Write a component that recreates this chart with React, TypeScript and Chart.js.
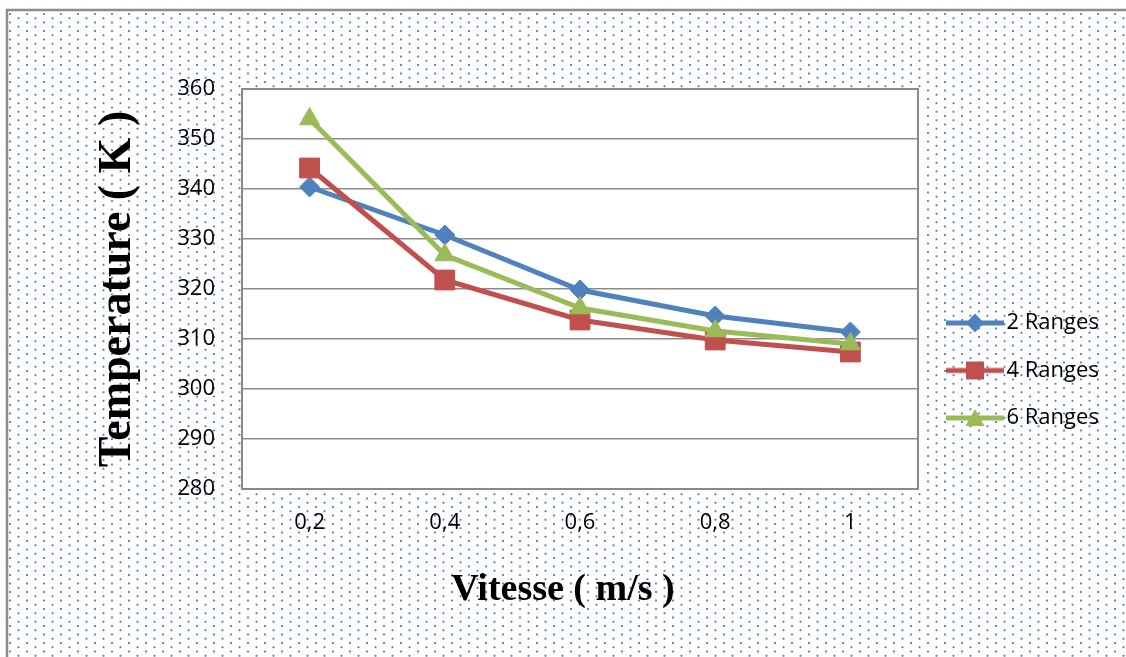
import React, { useEffect, useRef } from 'react';
import { Chart, registerables } from 'chart.js';

Chart.register(...registerables);

// ---- data ----
const categories = ['0,2', '0,4', '0,6', '0,8', '1'];
const seriesNames = ['2 Ranges', '4 Ranges', '6 Ranges'];
const ranges2 = [340.4, 330.8, 319.8, 314.6, 311.4];
const ranges4 = [344.2, 321.8, 313.8, 309.8, 307.4];
const ranges6 = [354.0, 326.8, 316.2, 311.6, 309.0];
const yMin = 280;
const yMax = 360;
const yStep = 10;
const xTitle = 'Vitesse ( m/s )';
const yTitle = 'Temperature ( K )';

// ---- styles ----
const seriesColors = ['#4F81BD', '#C0504D', '#9BBB59'];
const seriesShapes = ['rectRot', 'rect', 'triangle'];
const seriesRadii = [10, 14, 11.5];
const W = 1126;
const H = 657;
const LEGEND_WIDTH = 208;
const SANS = '"Open Sans", "Liberation Sans", sans-serif';
const SERIF = '"Liberation Serif", "DejaVu Serif", serif';

function makeLegendIcon(color: string, shape: string): HTMLCanvasElement {
  const c = document.createElement('canvas');
  c.width = 69;
  c.height = 26;
  const g = c.getContext('2d') as CanvasRenderingContext2D;
  g.strokeStyle = color;
  g.lineWidth = 5;
  g.beginPath();
  g.moveTo(11, 13);
  g.lineTo(69, 13);
  g.stroke();
  g.fillStyle = color;
  const cx = 40;
  const cy = 13;
  g.beginPath();
  if (shape === 'rectRot') {
    g.moveTo(cx, cy - 9.5);
    g.lineTo(cx + 9, cy);
    g.lineTo(cx, cy + 9.5);
    g.lineTo(cx - 9, cy);
    g.closePath();
  } else if (shape === 'rect') {
    g.rect(cx - 9, cy - 9, 18, 18);
  } else {
    g.moveTo(cx, cy - 9);
    g.lineTo(cx + 9.5, cy + 8);
    g.lineTo(cx - 9.5, cy + 8);
    g.closePath();
  }
  g.fill();
  return c;
}

const backgroundPlugin = {
  id: 'bgPattern',
  beforeDraw(chart: any) {
    const { ctx, width, height, chartArea } = chart;
    ctx.save();
    ctx.fillStyle = '#ffffff';
    ctx.fillRect(0, 0, width, height);
    // dotted fill
    ctx.fillStyle = '#3f75bd';
    const d = 8.5;
    for (let i = 0; ; i++) {
      const x = 10 + i * d;
      if (x > width) break;
      const off = i % 2 === 0 ? 0 : d / 2;
      for (let y = 14 + off; y < height; y += d) {
        if (
          x > chartArea.left - 2 &&
          x < chartArea.right + 2 &&
          y > chartArea.top - 2 &&
          y < chartArea.bottom + 2
        )
          continue;
        ctx.fillRect(x - 0.9, y - 0.9, 1.8, 1.8);
      }
    }
    // outer frame
    ctx.strokeStyle = '#8c8c8c';
    ctx.lineWidth = 2.5;
    ctx.beginPath();
    ctx.moveTo(7, height + 5);
    ctx.lineTo(7, 10);
    ctx.lineTo(width + 5, 10);
    ctx.stroke();
    // plot area
    ctx.fillStyle = '#ffffff';
    ctx.fillRect(
      chartArea.left,
      chartArea.top,
      chartArea.right - chartArea.left,
      chartArea.bottom - chartArea.top
    );
    ctx.restore();
  },
  beforeDatasetsDraw(chart: any) {
    const { ctx, chartArea } = chart;
    ctx.save();
    ctx.strokeStyle = '#898989';
    ctx.lineWidth = 2;
    ctx.strokeRect(
      chartArea.left,
      chartArea.top,
      chartArea.right - chartArea.left,
      chartArea.bottom - chartArea.top
    );
    ctx.restore();
  },
};

const legendWidthPlugin = {
  id: 'legendWidth',
  beforeLayout(chart: any) {
    const lg = chart.legend;
    if (lg && !lg._fixedW) {
      const orig = lg.fit;
      lg.fit = function (this: any) {
        orig.call(this);
        this.width = LEGEND_WIDTH;
      };
      lg._fixedW = true;
    }
  },
};

export default function App() {
  const ref = useRef<HTMLCanvasElement | null>(null);

  useEffect(() => {
    document.body.style.margin = '0';
    const canvas = ref.current;
    if (!canvas) return;
    const seriesData = [ranges2, ranges4, ranges6];
    const icons = seriesColors.map((c, i) => makeLegendIcon(c, seriesShapes[i]));

    const chart = new Chart(canvas, {
      type: 'line',
      data: {
        labels: categories,
        datasets: seriesNames.map((name, i) => ({
          label: name,
          data: seriesData[i],
          borderColor: seriesColors[i],
          backgroundColor: seriesColors[i],
          borderWidth: 5,
          pointStyle: seriesShapes[i] as any,
          pointRadius: seriesRadii[i],
          pointBackgroundColor: seriesColors[i],
          pointBorderColor: seriesColors[i],
          pointBorderWidth: 1,
          tension: 0,
          fill: false,
          order: 3 - i,
        })),
      },
      options: {
        responsive: false,
        devicePixelRatio: 1,
        animation: false,
        events: [],
        layout: { padding: { left: 0, right: 0, top: 89, bottom: 5 } },
        scales: {
          x: {
            type: 'category',
            offset: true,
            grid: { display: false, drawTicks: false },
            border: { display: false },
            ticks: {
              color: '#000',
              padding: 21,
              font: { family: SANS, size: 22 },
              maxRotation: 0,
            },
            afterFit: (scale: any) => {
              scale.height = 78.2;
            },
          },
          y: {
            min: yMin,
            max: yMax,
            ticks: {
              stepSize: yStep,
              color: '#000',
              padding: 27,
              font: { family: SANS, size: 22 },
            },
            grid: { color: '#8c8c8c', lineWidth: 1.5, drawTicks: false },
            border: { display: false },
            title: {
              display: true,
              text: yTitle,
              color: '#000',
              font: { family: SERIF, size: 46, weight: 'bold' },
              padding: { top: 90.4, bottom: 0 },
            },
            afterFit: (scale: any) => {
              scale.width = 242;
            },
          },
        },
        plugins: {
          title: {
            display: true,
            text: xTitle,
            position: 'bottom',
            color: '#000',
            font: { family: SERIF, size: 38, weight: 'bold' },
            padding: { top: 0, bottom: 39.2 },
          },
          legend: {
            display: true,
            position: 'right',
            align: 'center',
            labels: {
              usePointStyle: true,
              pointStyleWidth: 52,
              padding: 25.5,
              color: '#000',
              font: { family: SANS, size: 22 },
              generateLabels: () =>
                seriesNames.map((name, i) => ({
                  text: name,
                  pointStyle: icons[i] as any,
                  fillStyle: seriesColors[i],
                  strokeStyle: seriesColors[i],
                  lineWidth: 0,
                  hidden: false,
                  datasetIndex: i,
                  fontColor: '#000',
                })),
            },
          },
          tooltip: { enabled: false },
        },
      } as any,
      plugins: [backgroundPlugin, legendWidthPlugin],
    });

    return () => {
      chart.destroy();
    };
  }, []);

  return (
    <div style={{ width: W, height: H }}>
      <canvas ref={ref} width={W} height={H} style={{ display: 'block' }} />
    </div>
  );
}
